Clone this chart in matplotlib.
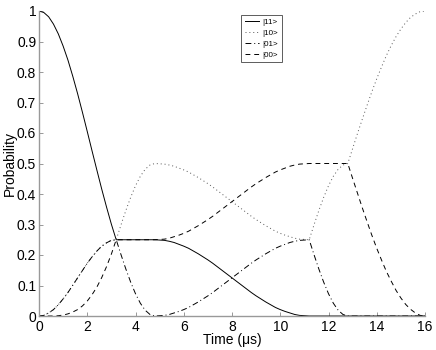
import numpy as np
import matplotlib
matplotlib.use("Agg")
import matplotlib.pyplot as plt

plt.rcParams['font.family'] = ['Liberation Sans', 'DejaVu Sans']

# sample times (us), every 0.2 us from 0 to 16
time_us = np.round(np.arange(81) * 0.2, 1)

p11 = [1.000, 0.995, 0.981, 0.957, 0.925, 0.885, 0.839, 0.786, 0.729, 0.668, 0.605, 0.541, 0.478, 0.416, 0.357, 0.301, 0.250,
       0.250, 0.250, 0.250, 0.250, 0.250, 0.250, 0.250, 0.250,
       0.249, 0.248, 0.245, 0.241, 0.235, 0.229, 0.222, 0.213, 0.204, 0.194, 0.184, 0.173, 0.161, 0.149, 0.137, 0.125,
       0.113, 0.101, 0.089, 0.077, 0.066, 0.056, 0.046, 0.037, 0.028, 0.021, 0.015, 0.010, 0.005, 0.002, 0.001, 0.000,
       0, 0, 0, 0, 0, 0, 0, 0,
       0, 0, 0, 0, 0, 0, 0, 0, 0, 0, 0, 0, 0, 0, 0, 0]

p10 = [0.000, 0.002, 0.010, 0.021, 0.037, 0.056, 0.077, 0.101, 0.125, 0.149, 0.173, 0.194, 0.213, 0.229, 0.240, 0.248, 0.250,
       0.299, 0.346, 0.389, 0.427, 0.458, 0.481, 0.495, 0.500,
       0.499, 0.498, 0.495, 0.491, 0.485, 0.479, 0.472, 0.463, 0.454, 0.444, 0.434, 0.423, 0.411, 0.399, 0.387, 0.375,
       0.363, 0.351, 0.339, 0.327, 0.316, 0.306, 0.296, 0.287, 0.278, 0.271, 0.265, 0.260, 0.255, 0.252, 0.251, 0.250,
       0.299, 0.346, 0.389, 0.427, 0.458, 0.481, 0.495, 0.500,
       0.549, 0.598, 0.645, 0.691, 0.736, 0.778, 0.817, 0.854, 0.887, 0.916, 0.941, 0.962, 0.979, 0.990, 0.998, 1.000]

p01 = [0.000, 0.002, 0.010, 0.021, 0.037, 0.056, 0.077, 0.101, 0.125, 0.149, 0.173, 0.194, 0.213, 0.229, 0.240, 0.248, 0.250,
       0.201, 0.154, 0.111, 0.073, 0.042, 0.019, 0.005, 0.000,
       0.001, 0.002, 0.005, 0.010, 0.015, 0.021, 0.028, 0.037, 0.046, 0.056, 0.066, 0.077, 0.089, 0.101, 0.113, 0.125,
       0.137, 0.149, 0.161, 0.173, 0.184, 0.194, 0.204, 0.213, 0.222, 0.229, 0.235, 0.241, 0.245, 0.248, 0.249, 0.250,
       0.201, 0.154, 0.111, 0.073, 0.042, 0.019, 0.005, 0.000,
       0, 0, 0, 0, 0, 0, 0, 0, 0, 0, 0, 0, 0, 0, 0, 0]

p00 = [0.000, 0.000, 0.000, 0.000, 0.001, 0.003, 0.007, 0.013, 0.021, 0.033, 0.049, 0.070, 0.095, 0.126, 0.162, 0.203, 0.250,
       0.250, 0.250, 0.250, 0.250, 0.250, 0.250, 0.250, 0.250,
       0.251, 0.252, 0.255, 0.260, 0.265, 0.271, 0.278, 0.287, 0.296, 0.306, 0.316, 0.327, 0.339, 0.351, 0.363, 0.375,
       0.387, 0.399, 0.411, 0.423, 0.434, 0.444, 0.454, 0.463, 0.472, 0.479, 0.485, 0.491, 0.495, 0.498, 0.499, 0.500,
       0.5, 0.5, 0.5, 0.5, 0.5, 0.5, 0.5, 0.5,
       0.451, 0.403, 0.355, 0.309, 0.264, 0.222, 0.183, 0.146, 0.114, 0.084, 0.059, 0.038, 0.022, 0.010, 0.002, 0.000]

labels = ["|11>", "|10>", "|01>", "|00>"]

fig = plt.figure(figsize=(4.36, 3.5), dpi=100)
ax = fig.add_axes([39/436, 34/350, 386/436, 305/350])

lw = 0.7
ax.plot(time_us, p11, color="black", lw=lw, ls="-", label=labels[0])
ax.plot(time_us, p10, color="#555555", lw=lw, ls=(0, (1, 3)), label=labels[1])
ax.plot(time_us, p01, color="black", lw=lw, ls=(0, (6, 3, 1, 3)), label=labels[2])
ax.plot(time_us, p00, color="black", lw=lw, ls=(0, (5, 4)), label=labels[3])

ax.set_xlim(0, 16)
ax.set_ylim(0, 1)
ax.set_xticks(np.arange(0, 17, 2))
ax.set_yticks(np.round(np.arange(0, 1.01, 0.1), 1))
ax.set_yticklabels(["0", "0.1", "0.2", "0.3", "0.4", "0.5", "0.6", "0.7", "0.8", "0.9", "1"])
ax.tick_params(direction="in", length=3, width=0.6, color="#888888", labelsize=10)
ax.tick_params(axis="x", pad=3)
ax.tick_params(axis="y", pad=2)

for side in ["top", "right"]:
    ax.spines[side].set_visible(False)
for side in ["left", "bottom"]:
    ax.spines[side].set_color("#999999")
    ax.spines[side].set_linewidth(1.0)

ax.set_xlabel("Time (\u03bcs)", fontsize=10, labelpad=-1)
ax.set_ylabel("Probability", fontsize=10, labelpad=0)

leg = ax.legend(loc="upper left", bbox_to_anchor=(202/386, 1 - 4/305), fontsize=5.8,
                frameon=True, fancybox=False, handlelength=1.8, handletextpad=0.4,
                borderpad=0.45, labelspacing=0.4, borderaxespad=0)
leg.get_frame().set_edgecolor("#333333")
leg.get_frame().set_linewidth(0.7)

fig.savefig("out.png", dpi=100)
